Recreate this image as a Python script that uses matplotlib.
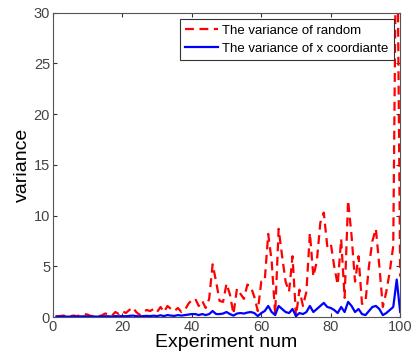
import matplotlib
matplotlib.use("Agg")
import matplotlib.pyplot as plt

plt.rcParams['font.family'] = ['Liberation Sans', 'DejaVu Sans']

experiment = list(range(1, 101))
var_random = [0.1, 0.1, 0.15, 0.1, 0.1, 0.15, 0.1, 0.2, 0.3, 0.25,
              0.1, 0.15, 0.1, 0.15, 0.35, 0.3, 0.15, 0.5, 0.3, 0.6,
              0.4, 0.7, 0.95, 0.5, 0.2, 0.5, 0.7, 0.6, 0.8, 0.5,
              1.0, 0.5, 1.1, 0.8, 0.6, 0.9, 0.5, 0.7, 1.3, 1.7,
              1.8, 1.1, 1.6, 0.9, 1.8, 5.2, 3.5, 1.6, 1.5, 3.3,
              2.2, 0.3, 2.8, 2.3, 1.8, 3.2, 3.0, 2.0, 0.6, 3.5,
              3.6, 8.2, 5.5, 0.3, 8.7, 6.0, 3.5, 2.5, 6.0, 0.1,
              2.7, 1.1, 2.5, 8.3, 4.0, 5.5, 9.3, 10.3, 7.0, 7.3,
              5.0, 3.2, 7.7, 1.9, 11.5, 8.0, 3.5, 6.0, 1.3, 1.5,
              5.0, 7.5, 8.7, 5.0, 1.0, 2.5, 4.5, 7.0, 45.0, 4.0]
var_x = [0.05, 0.05, 0.06, 0.05, 0.05, 0.06, 0.05, 0.07, 0.08, 0.07,
         0.05, 0.06, 0.05, 0.06, 0.08, 0.08, 0.06, 0.1, 0.08, 0.1,
         0.08, 0.12, 0.15, 0.1, 0.06, 0.1, 0.12, 0.1, 0.14, 0.1,
         0.18, 0.1, 0.2, 0.15, 0.12, 0.2, 0.15, 0.2, 0.25, 0.3,
         0.3, 0.2, 0.3, 0.2, 0.3, 0.6, 0.3, 0.3, 0.35, 0.5,
         0.3, 0.15, 0.35, 0.4, 0.35, 0.45, 0.5, 0.4, 0.1, 0.4,
         0.6, 1.1, 0.5, 0.2, 1.1, 0.8, 0.5, 0.4, 0.8, 0.1,
         0.4, 0.3, 0.5, 1.1, 0.5, 0.8, 1.1, 1.4, 1.0, 0.9,
         0.7, 0.4, 1.0, 0.5, 1.5, 1.1, 0.5, 0.8, 0.3, 0.2,
         0.6, 1.0, 1.1, 0.8, 0.2, 0.4, 0.7, 1.0, 3.7, 0.5]

fig = plt.figure(figsize=(4.13, 3.62), dpi=100)
ax = fig.add_axes([0.128, 0.124, 0.841, 0.841])
ax.plot(experiment, var_random, color='#ff0000', linestyle=(0, (4, 2.5)), linewidth=1.6,
        label='The variance of random')
ax.plot(experiment, var_x, color='#0000ff', linestyle='-', linewidth=1.6,
        label='The variance of x coordiante')
ax.set_xlim(0, 100)
ax.set_ylim(0, 30)
ax.set_xticks([0, 20, 40, 60, 80, 100])
ax.set_yticks([0, 5, 10, 15, 20, 25, 30])
ax.tick_params(direction='in', length=3, top=True, right=True, labelsize=10.5,
               colors='#333333', labelcolor='#444444', pad=2)
for s in ax.spines.values():
    s.set_color('#555555')
    s.set_linewidth(0.8)
ax.set_xlabel('Experiment num', fontsize=14, labelpad=0)
ax.set_ylabel('variance', fontsize=14, labelpad=2)
leg = ax.legend(loc='upper right', fontsize=9.5,
                fancybox=False, framealpha=1,
                edgecolor='#333333', borderaxespad=0.5, handlelength=2.5,
                handletextpad=0.3, borderpad=0.4, labelspacing=0.45)
leg.get_frame().set_linewidth(0.8)
fig.savefig('out.png', dpi=100)
